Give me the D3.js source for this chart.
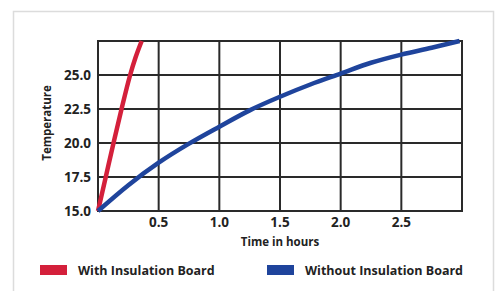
<!DOCTYPE html>
<html><head>
<meta charset="utf-8">
<script src="https://d3js.org/d3.v7.min.js"></script>
<style>
  body { margin: 0; background: #fff; }
  svg text { font-family: "Open Sans", "DejaVu Sans", sans-serif; font-weight: 700; fill: #222; }
</style>
</head>
<body>
<svg id="chart" width="498" height="291"></svg>
<script>
// hours vs temperature
const withHours    = [0, 0.064, 0.128, 0.194, 0.265, 0.31, 0.36];
const withTemp     = [15, 17.5, 20.0, 22.5, 25.0, 26.3, 27.5];
const withoutHours = [0, 0.25, 0.5, 0.75, 1.0, 1.25, 1.5, 1.75, 2.0, 2.25, 2.5, 2.75, 2.98];
const withoutTemp  = [15, 16.9, 18.55, 19.95, 21.2, 22.4, 23.4, 24.3, 25.1, 25.9, 26.5, 27.0, 27.5];
const xTicks = [0.5, 1.0, 1.5, 2.0, 2.5];
const yTicks = [15.0, 17.5, 20.0, 22.5, 25.0];
const series = ["With Insulation Board", "Without Insulation Board"];
const colors = ["#d4203b", "#1f449c"];

const svg = d3.select("#chart");

// light frame round the whole card
svg.append("path")
   .attr("d", "M13.5,295 V11.5 H493.5 V295")
   .attr("fill", "none").attr("stroke", "#dcdcdc").attr("stroke-width", 1.5);

const x = d3.scaleLinear().domain([0, 3]).range([98, 462]);
const y = d3.scaleLinear().domain([15, 27.5]).range([211, 41]);

const grid = svg.append("g");
xTicks.forEach(t => {
  grid.append("line").attr("x1", x(t)).attr("x2", x(t)).attr("y1", y(15)).attr("y2", y(27.5));
});
[17.5, 20, 22.5, 25].forEach(t => {
  grid.append("line").attr("x1", x(0)).attr("x2", x(3)).attr("y1", y(t)).attr("y2", y(t));
});
grid.append("rect")
    .attr("x", x(0)).attr("y", y(27.5))
    .attr("width", x(3) - x(0)).attr("height", y(15) - y(27.5))
    .attr("fill", "none");
grid.selectAll("line, rect").attr("stroke", "#2a2a2a").attr("stroke-width", 2);

// curves
const line = d3.line().x(d => x(d[0])).y(d => y(d[1])).curve(d3.curveMonotoneX);
const data = [
  d3.zip(withHours, withTemp),
  d3.zip(withoutHours, withoutTemp)
];
svg.selectAll("path.curve").data(data)
   .join("path")
   .attr("class", "curve")
   .attr("d", line)
   .attr("fill", "none")
   .attr("stroke", (d, i) => colors[i])
   .attr("stroke-width", 4.5);

// tick labels
svg.selectAll("text.ytick").data(yTicks)
   .join("text").attr("class", "ytick")
   .attr("x", 91).attr("y", d => y(d) + 5)
   .attr("text-anchor", "end").attr("font-size", 13.5)
   .text(d => d.toFixed(1));

svg.selectAll("text.xtick").data(xTicks)
   .join("text").attr("class", "xtick")
   .attr("x", d => x(d)).attr("y", 227)
   .attr("text-anchor", "middle").attr("font-size", 13.5)
   .text(d => d.toFixed(1));

svg.append("text")
   .attr("x", x(1.5)).attr("y", 246)
   .attr("text-anchor", "middle").attr("font-size", 11.5)
   .text("Time in hours");

svg.append("text")
   .attr("transform", "translate(51,123) rotate(-90)")
   .attr("text-anchor", "middle").attr("font-size", 11.5)
   .text("Temperature");

// legend
const legX = [40, 267];
series.forEach((s, i) => {
  svg.append("rect").attr("x", legX[i]).attr("y", 265)
     .attr("width", 27).attr("height", 10).attr("fill", colors[i]);
  svg.append("text").attr("x", legX[i] + 38).attr("y", 275)
     .attr("font-size", 12.5).text(s);
});
</script>
</body>
</html>
